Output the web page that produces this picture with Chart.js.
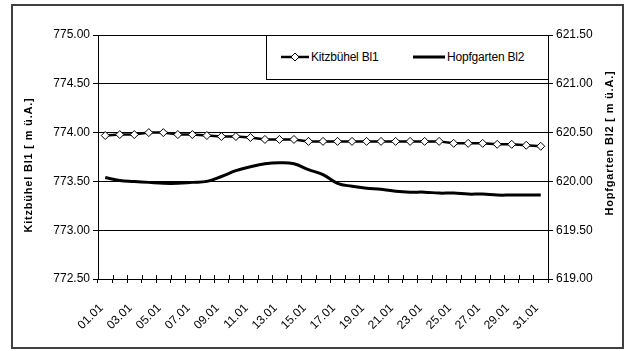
<!DOCTYPE html>
<html>
<head>
<meta charset="utf-8">
<script src="https://cdn.jsdelivr.net/npm/chart.js@4/dist/chart.umd.min.js"></script>
<style>
  html, body { margin: 0; padding: 0; background: #fff; }
  #wrap { position: relative; width: 628px; height: 351px; }
  #frame { position: absolute; left: 11px; top: 4px; width: 609px; height: 341px;
           border: 2px solid #404040; pointer-events: none; }
  #legend { position: absolute; left: 266px; top: 35px; width: 281px; height: 43px;
            border: 1px solid #000; background: #fff;
            font: 12px "Liberation Sans", Arial, sans-serif; letter-spacing: -0.2px; }
  #legend .item { position: absolute; top: 14px; display: flex; align-items: center; }
  #legend svg { margin-right: 2px; }
</style>
</head>
<body>
<div id="wrap">
  <canvas id="chart" width="628" height="351"></canvas>
  <div id="legend">
    <div class="item" style="left:14px">
      <svg width="28" height="12"><line x1="0" y1="6" x2="28" y2="6" stroke="#000" stroke-width="2.5"/>
        <polygon points="14,2 18,6 14,10 10,6" fill="#fff" stroke="#000" stroke-width="1"/></svg>
      <span>Kitzbühel Bl1</span>
    </div>
    <div class="item" style="left:146px">
      <svg width="32" height="12"><line x1="0" y1="6" x2="32" y2="6" stroke="#000" stroke-width="3"/></svg>
      <span>Hopfgarten Bl2</span>
    </div>
  </div>
  <div id="frame"></div>
</div>
<script>
let days = ['01.01','02.01','03.01','04.01','05.01','06.01','07.01','08.01','09.01','10.01',
  '11.01','12.01','13.01','14.01','15.01','16.01','17.01','18.01','19.01','20.01',
  '21.01','22.01','23.01','24.01','25.01','26.01','27.01','28.01','29.01','30.01','31.01']

let kitzbuehel = [773.97,773.98,773.98,774.00,774.00,773.98,773.98,773.97,773.96,773.96,
  773.95,773.93,773.93,773.93,773.91,773.91,773.91,773.91,773.91,773.91,
  773.91,773.91,773.91,773.91,773.89,773.89,773.89,773.88,773.88,773.87,773.86]

let hopfgarten = [620.04,620.01,620.00,619.99,619.98,619.98,619.99,620.00,620.05,620.11,
  620.15,620.18,620.19,620.18,620.12,620.07,619.98,619.95,619.93,619.92,
  619.90,619.89,619.89,619.88,619.88,619.87,619.87,619.86,619.86,619.86,619.86]

let leftRange = [772.5, 775.0]
let rightRange = [619.0, 621.5]
let tickStep = 0.5

let titleLeft = 'Kitzbühel Bl1 [ m ü.A.]'
let titleRight = 'Hopfgarten Bl2 [ m ü.A.]'

const font = { family: '"Liberation Sans", Arial, sans-serif', size: 12 }

function drawTitle(ctx, text, x, y) {
  ctx.save()
  ctx.font = 'bold 11px "Liberation Sans", Arial, sans-serif'
  ctx.letterSpacing = '0.8px'
  ctx.fillStyle = '#000'
  ctx.textAlign = 'center'
  ctx.textBaseline = 'middle'
  ctx.translate(x, y)
  ctx.rotate(-Math.PI / 2)
  ctx.fillText(text, 0, 0)
  ctx.restore()
}

// axis titles (both read bottom to top) + the inner half of the cross ticks on the x axis
const extras = {
  id: 'extras',
  afterDraw(chart) {
    const ctx = chart.ctx
    drawTitle(ctx, titleLeft, 29, 165)
    drawTitle(ctx, titleRight, 610, 143)

    const area = chart.chartArea
    const step = (area.right - area.left) / days.length
    ctx.save()
    ctx.strokeStyle = '#000'
    ctx.lineWidth = 1
    ctx.beginPath()
    for (let i = 0; i <= days.length; i++) {
      const px = Math.round(area.left + i * step) + 0.5
      ctx.moveTo(px, area.bottom)
      ctx.lineTo(px, area.bottom - 4)
    }
    ctx.stroke()
    ctx.restore()
  }
}

new Chart(document.getElementById('chart'), {
  type: 'line',
  data: {
    labels: days,
    datasets: [
      {
        label: 'Kitzbühel Bl1',
        data: kitzbuehel,
        yAxisID: 'y',
        borderColor: '#000',
        borderWidth: 2.5,
        pointStyle: 'rectRot',
        pointRadius: 4,
        pointBorderWidth: 1,
        pointBackgroundColor: '#fff',
        pointBorderColor: '#000',
        tension: 0
      },
      {
        label: 'Hopfgarten Bl2',
        data: hopfgarten,
        yAxisID: 'y2',
        borderColor: '#000',
        borderWidth: 3,
        pointRadius: 0,
        tension: 0.4
      }
    ]
  },
  options: {
    responsive: false,
    animation: false,
    layout: { padding: { top: 35, left: 0, right: 0, bottom: 0 } },
    plugins: { legend: { display: false }, tooltip: { enabled: false } },
    scales: {
      x: {
        offset: true,
        grid: { offset: true, drawOnChartArea: false, drawTicks: true, tickLength: 4, color: '#000' },
        border: { color: '#000', width: 1 },
        ticks: {
          autoSkip: false, maxRotation: 45, minRotation: 45, padding: 18, labelOffset: -4,
          color: '#000', font: font,
          callback: function(v, i) { return i % 2 === 0 ? days[i] : '' }
        },
        afterFit(scale) { scale.height = 72 }
      },
      y: {
        position: 'left',
        min: leftRange[0], max: leftRange[1],
        grid: { color: '#000', lineWidth: 1, tickLength: 5 },
        border: { color: '#000', width: 1 },
        ticks: { stepSize: tickStep, padding: 3, color: '#000', font: font,
          callback: v => v.toFixed(2) },
        afterFit(scale) { scale.width = 98 }
      },
      y2: {
        position: 'right',
        min: rightRange[0], max: rightRange[1],
        grid: { drawOnChartArea: false, color: '#000', tickLength: 5 },
        border: { color: '#000', width: 1 },
        ticks: { stepSize: tickStep, padding: 3, color: '#000', font: font,
          callback: v => v.toFixed(2) },
        afterFit(scale) { scale.width = 80 }
      }
    }
  },
  plugins: [extras]
})
</script>
</body>
</html>
